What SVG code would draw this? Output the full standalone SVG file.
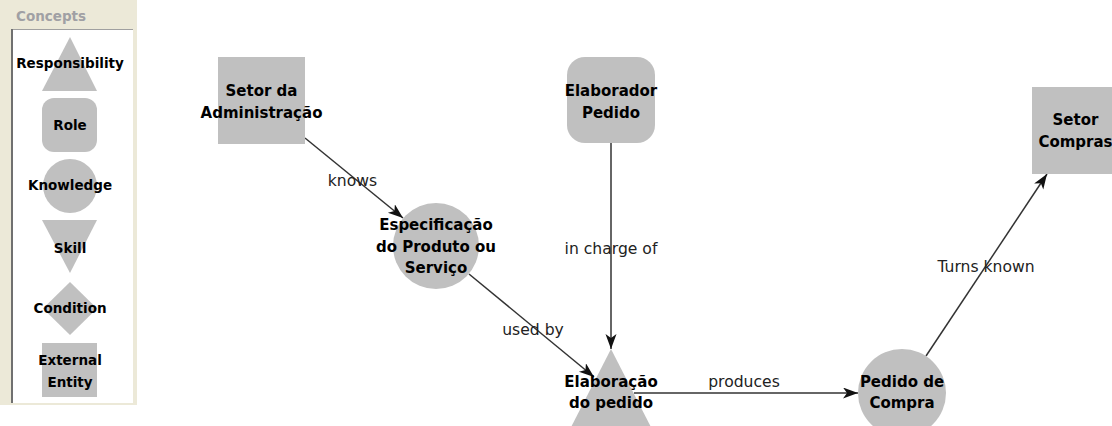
<svg xmlns="http://www.w3.org/2000/svg" width="1112" height="426" viewBox="0 0 1112 426">
  <style>
    .shape { fill: #c0c0c0; stroke: none; }
    .node-text { font-family: "DejaVu Sans", sans-serif; font-weight: bold; font-size: 15px; fill: #000; text-anchor: middle; }
    .legend-text { font-family: "DejaVu Sans", sans-serif; font-weight: bold; font-size: 13.5px; fill: #000; text-anchor: middle; }
    .edge { stroke: #333; stroke-width: 1.5; fill: none; marker-end: url(#arrow); }
    .edge-label { font-family: "DejaVu Sans", sans-serif; font-size: 15.6px; fill: #222; text-anchor: middle; }
  </style>
  <defs>
    <marker id="arrow" markerUnits="userSpaceOnUse" markerWidth="16" markerHeight="12" refX="15" refY="5.5" orient="auto">
      <path d="M0,0 L15,5.5 L0,11 L4,5.5 Z" fill="#111"/>
    </marker>
  </defs>

  <rect width="1112" height="426" fill="#fff"/>

  <!-- Concepts palette -->
  <g id="legend">
    <rect x="0" y="0" width="137" height="405" fill="#ece9d8"/>
    <rect x="11" y="29" width="122" height="374" fill="#fff"/>
    <line x1="11" y1="29.5" x2="133" y2="29.5" stroke="#a0a0a0" stroke-width="1"/>
    <line x1="12" y1="29" x2="12" y2="403" stroke="#707070" stroke-width="2"/>
    <text x="16" y="21" font-family="DejaVu Sans, sans-serif" font-weight="bold" font-size="13.5" fill="#a0a0a4">Concepts</text>

    <g id="legend-responsibility">
      <polygon class="shape" points="70,37 42,91 97,91"/>
      <text class="legend-text" x="70" y="68">Responsibility</text>
    </g>
    <g id="legend-role">
      <rect class="shape" x="42" y="98" width="55" height="54" rx="12" ry="12"/>
      <text class="legend-text" x="70" y="130">Role</text>
    </g>
    <g id="legend-knowledge">
      <circle class="shape" cx="70" cy="186" r="27"/>
      <text class="legend-text" x="70" y="190">Knowledge</text>
    </g>
    <g id="legend-skill">
      <polygon class="shape" points="42,220 97,220 70,273"/>
      <text class="legend-text" x="70" y="253">Skill</text>
    </g>
    <g id="legend-condition">
      <polygon class="shape" points="70,282 97,308.5 70,335 43,308.5"/>
      <text class="legend-text" x="70" y="313">Condition</text>
    </g>
    <g id="legend-external">
      <rect class="shape" x="42" y="343" width="55" height="54"/>
      <text class="legend-text" x="70" y="365">External</text>
      <text class="legend-text" x="70" y="387">Entity</text>
    </g>
  </g>

  <!-- Connectors -->
  <g id="connectors">
    <line class="edge" x1="305" y1="138" x2="403" y2="218"/>
    <line class="edge" x1="469" y1="274" x2="594" y2="377"/>
    <line class="edge" x1="611" y1="143" x2="611" y2="349"/>
    <line class="edge" x1="634" y1="393" x2="858" y2="393"/>
    <line class="edge" x1="926" y1="356" x2="1047" y2="174"/>

    <text class="edge-label" x="352.5" y="186">knows</text>
    <text class="edge-label" x="533" y="335">used by</text>
    <text class="edge-label" x="611" y="254">in charge of</text>
    <text class="edge-label" x="744" y="387">produces</text>
    <text class="edge-label" x="986" y="272">Turns known</text>
  </g>

  <!-- Nodes -->
  <g id="setor-administracao">
    <rect class="shape" x="218" y="57" width="87" height="87"/>
    <text class="node-text" x="261.5" y="96">Setor da</text>
    <text class="node-text" x="261.5" y="118">Administração</text>
  </g>

  <g id="elaborador-pedido">
    <rect class="shape" x="567" y="57" width="88" height="86" rx="18" ry="18"/>
    <text class="node-text" x="611" y="96">Elaborador</text>
    <text class="node-text" x="611" y="118">Pedido</text>
  </g>

  <g id="especificacao">
    <circle class="shape" cx="436" cy="246" r="43"/>
    <text class="node-text" x="436" y="230">Especificação</text>
    <text class="node-text" x="436" y="252">do Produto ou</text>
    <text class="node-text" x="436" y="273">Serviço</text>
  </g>

  <g id="elaboracao-pedido">
    <polygon class="shape" points="611,349 566,437 656,437"/>
    <text class="node-text" x="611" y="387">Elaboração</text>
    <text class="node-text" x="611" y="408">do pedido</text>
  </g>

  <g id="pedido-compra">
    <circle class="shape" cx="902" cy="393" r="44"/>
    <text class="node-text" x="902" y="387">Pedido de</text>
    <text class="node-text" x="902" y="408">Compra</text>
  </g>

  <g id="setor-compras">
    <rect class="shape" x="1032" y="87" width="87" height="87"/>
    <text class="node-text" x="1075.5" y="125">Setor</text>
    <text class="node-text" x="1075.5" y="147">Compras</text>
  </g>
</svg>
